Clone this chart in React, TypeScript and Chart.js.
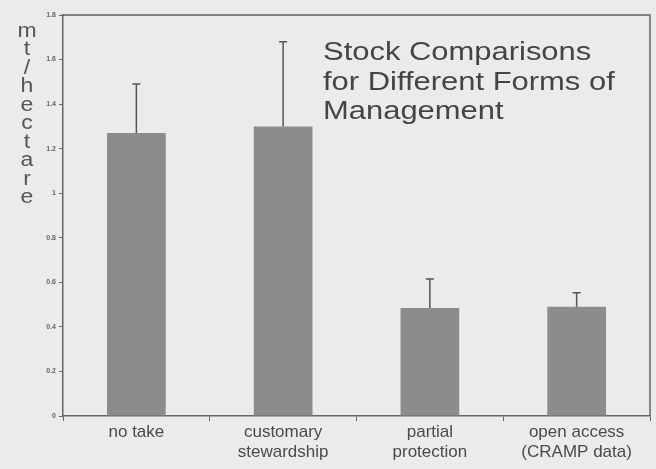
import React, { useEffect, useRef } from "react";
import { Chart, registerables } from "chart.js";

Chart.register(...registerables);

const categories: (string | string[])[] = [
  "no take",
  ["customary", "stewardship"],
  ["partial", "protection"],
  ["open access", "(CRAMP data)"],
];
const stockValues = [1.27, 1.3, 0.485, 0.49];
const errorTops = [1.49, 1.68, 0.615, 0.553];
const yTickValues = [0, 0.2, 0.4, 0.6, 0.8, 1, 1.2, 1.4, 1.6, 1.8];
const yTitle = "mt/hectare";
const titleLines = ["Stock Comparisons", "for Different Forms of", "Management"];

const FONT = "'Liberation Sans', Arial, Helvetica, sans-serif";

const errorBarPlugin = {
  id: "errorBars",
  afterDatasetsDraw(chart: any) {
    const meta = chart.getDatasetMeta(0);
    const y = chart.scales.y;
    const ctx = chart.ctx;
    ctx.save();
    ctx.strokeStyle = "#555";
    ctx.lineWidth = 1.5;
    meta.data.forEach((bar: any, i: number) => {
      const top = y.getPixelForValue(errorTops[i]);
      ctx.beginPath();
      ctx.moveTo(bar.x, bar.y);
      ctx.lineTo(bar.x, top);
      ctx.moveTo(bar.x - 4, top);
      ctx.lineTo(bar.x + 4, top);
      ctx.stroke();
    });
    ctx.restore();
  },
};

const framePlugin = {
  id: "frame",
  afterDraw(chart: any) {
    const { ctx, chartArea } = chart;
    ctx.save();
    ctx.strokeStyle = "#666";
    ctx.lineWidth = 1.5;
    ctx.beginPath();
    ctx.moveTo(chartArea.left, chartArea.top);
    ctx.lineTo(chartArea.right, chartArea.top);
    ctx.lineTo(chartArea.right, chartArea.bottom);
    ctx.stroke();
    ctx.restore();
  },
};

const textPlugin = {
  id: "texts",
  afterDraw(chart: any) {
    const { ctx, chartArea } = chart;
    ctx.save();
    // stacked y-axis title
    ctx.fillStyle = "#555";
    ctx.font = `20px ${FONT}`;
    ctx.textAlign = "center";
    ctx.textBaseline = "middle";
    const chars = yTitle.split("");
    chars.forEach((c, i) => {
      ctx.save();
      ctx.translate(27, chartArea.top + 16 + i * 18.5);
      ctx.scale(1.15, 1);
      ctx.fillText(c, 0, 0);
      ctx.restore();
    });
    // chart title inside plot
    ctx.fillStyle = "#454545";
    ctx.font = `26px ${FONT}`;
    ctx.textAlign = "left";
    ctx.textBaseline = "alphabetic";
    titleLines.forEach((line, i) => {
      ctx.save();
      ctx.translate(chartArea.left + 260, chartArea.top + 45 + i * 29.5);
      ctx.scale(1.19, 1);
      ctx.fillText(line, 0, 0);
      ctx.restore();
    });
    ctx.restore();
  },
};

export default function App() {
  const ref = useRef<HTMLCanvasElement>(null);
  useEffect(() => {
    document.body.style.margin = "0";
    document.body.style.background = "#ebebeb";
    const chart = new Chart(ref.current!, {
      type: "bar",
      data: {
        labels: categories,
        datasets: [
          {
            data: stockValues,
            backgroundColor: "#8c8c8c",
            borderWidth: 0,
            barPercentage: 0.4,
            categoryPercentage: 1,
          },
        ],
      },
      options: {
        animation: false,
        responsive: false,
        layout: { padding: { top: 15, right: 6, left: 0, bottom: 0 } },
        plugins: {
          legend: { display: false },
          tooltip: { enabled: false },
        },
        scales: {
          x: {
            grid: {
              display: true,
              drawOnChartArea: false,
              drawTicks: true,
              tickLength: 5,
              color: "#666",
              offset: true,
            },
            border: { color: "#666", width: 1.5 },
            ticks: {
              color: "#4a4a4a",
              font: { family: FONT, size: 17, lineHeight: 1.15 },
              padding: 2,
              maxRotation: 0,
              autoSkip: false,
            },
            afterFit(scale: any) {
              scale.height = 53;
            },
          },
          y: {
            min: 0,
            max: 1.8,
            afterBuildTicks(scale: any) {
              scale.ticks = yTickValues.map((v) => ({ value: v }));
            },
            grid: {
              display: true,
              drawOnChartArea: false,
              tickLength: 4,
              color: "#666",
            },
            border: { color: "#666", width: 1.5 },
            ticks: {
              color: "#666",
              font: { family: FONT, size: 7, weight: "bold" },
              padding: 3,
              callback: (v: any) => String(Number(Number(v).toFixed(1))),
            },
            afterFit(scale: any) {
              scale.width = 63;
            },
          },
        },
      },
      plugins: [errorBarPlugin, framePlugin, textPlugin],
    });
    return () => chart.destroy();
  }, []);
  return (
    <div style={{ width: 656, height: 469, background: "#ebebeb" }}>
      <canvas ref={ref} width={656} height={469} style={{ display: "block" }} />
    </div>
  );
}
